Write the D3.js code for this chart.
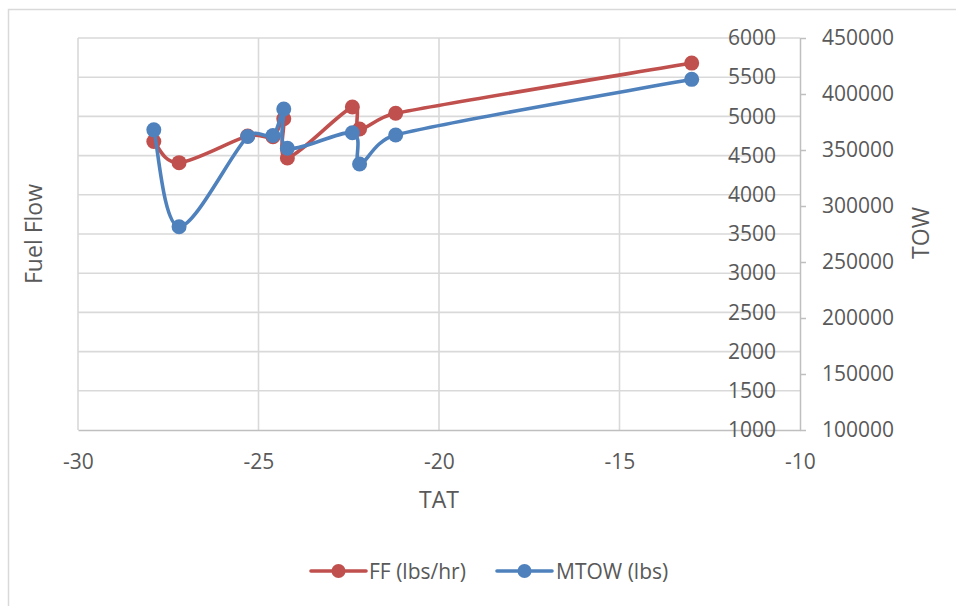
<!DOCTYPE html>
<html>
<head>
<meta charset="utf-8">
<script src="https://cdn.jsdelivr.net/npm/d3@7"></script>
<style>
  html, body { margin: 0; padding: 0; background: #ffffff; }
  svg { display: block; }
  text { font-family: "Open Sans", sans-serif; fill: #595959; }
</style>
</head>
<body>
<svg id="chart" width="956" height="606"></svg>
<script>
// Total air temperature readings (°C), shared by both series
const tat = [-27.9, -27.2, -25.3, -24.6, -24.3, -24.2, -22.4, -22.2, -21.2, -13.0];
// Fuel flow (lbs/hr) — primary axis
const ffValues = [4680, 4410, 4750, 4740, 4970, 4470, 5120, 4840, 5040, 5680];
// Maximum take-off weight (lbs) — secondary axis
const mtowValues = [368000, 281500, 362000, 363000, 386600, 351500, 365400, 337500, 363400, 413100];

const xTicks = [-30, -25, -20, -15, -10];
const ffTicks = d3.range(1000, 6001, 500);
const towTicks = d3.range(100000, 450001, 50000);

const seriesNames = ["FF (lbs/hr)", "MTOW (lbs)"];
const colors = ["#C0504D", "#4F81BD"];

const plainNumber = d => String(d);
const tickFont = "21px";
const titleFont = "23px";

const svg = d3.select("#chart");

// chart area border
svg.append("rect")
  .attr("x", 8.5).attr("y", 9.5)
  .attr("width", 1000).attr("height", 1000)
  .attr("fill", "none").attr("stroke", "#D9D9D9").attr("stroke-width", 1.5);

const plot = { left: 78, right: 800, top: 38, bottom: 430 };

const x = d3.scaleLinear().domain([-30, -10]).range([plot.left, plot.right]);
const yFF = d3.scaleLinear().domain([1000, 6000]).range([plot.bottom, plot.top]);
const yTOW = d3.scaleLinear().domain([100000, 450000]).range([plot.bottom, plot.top]);

// gridlines
const grid = svg.append("g");
grid.selectAll("line.h").data(ffTicks.slice(1)).join("line")
  .attr("x1", plot.left).attr("x2", plot.right)
  .attr("y1", d => yFF(d)).attr("y2", d => yFF(d))
  .attr("stroke", "#D9D9D9").attr("stroke-width", 1.6);
grid.selectAll("line.v").data(xTicks.slice(0, -1)).join("line")
  .attr("x1", d => x(d)).attr("x2", d => x(d))
  .attr("y1", plot.top).attr("y2", plot.bottom)
  .attr("stroke", "#D9D9D9").attr("stroke-width", 1.6);

// horizontal (TAT) axis
const xAxis = svg.append("g")
  .attr("transform", `translate(0,${plot.bottom})`)
  .call(d3.axisBottom(x).tickValues(xTicks).tickSize(0).tickPadding(24).tickFormat(plainNumber));
xAxis.select(".domain").attr("stroke", "#BFBFBF").attr("stroke-width", 1.5);
xAxis.selectAll("text").style("font-size", tickFont).style("font-family", "Open Sans, sans-serif").attr("fill", "#595959");

// primary vertical axis (fuel flow) — sits at the right edge, labels inside
const ffAxis = svg.append("g")
  .attr("transform", `translate(${plot.right},0)`)
  .call(d3.axisLeft(yFF).tickValues(ffTicks).tickSize(0).tickPadding(24).tickFormat(plainNumber));
ffAxis.select(".domain").remove();
ffAxis.selectAll("text").style("font-size", tickFont).style("font-family", "Open Sans, sans-serif").attr("fill", "#595959");

// secondary vertical axis (take-off weight)
const towAxis = svg.append("g")
  .attr("transform", `translate(${plot.right},0)`)
  .call(d3.axisRight(yTOW).tickValues(towTicks).tickSize(6).tickSizeOuter(0).tickPadding(16).tickFormat(plainNumber));
towAxis.select(".domain").attr("stroke", "#BFBFBF").attr("stroke-width", 1.5);
towAxis.selectAll(".tick line").attr("stroke", "#BFBFBF").attr("stroke-width", 1.5);
towAxis.selectAll("text").style("font-size", tickFont).style("font-family", "Open Sans, sans-serif").attr("fill", "#595959");

// axis titles
svg.append("text")
  .attr("x", (plot.left + plot.right) / 2).attr("y", 499)
  .attr("text-anchor", "middle").attr("dominant-baseline", "central")
  .style("font-size", titleFont).text("TAT");
svg.append("text")
  .attr("transform", "translate(33,234) rotate(-90)")
  .attr("text-anchor", "middle").attr("dominant-baseline", "central")
  .style("font-size", titleFont).text("Fuel Flow");
svg.append("text")
  .attr("transform", "translate(920,233) rotate(-90)")
  .attr("text-anchor", "middle").attr("dominant-baseline", "central")
  .style("font-size", titleFont).text("TOW");

// Smoothed line: Catmull-Rom style Béziers (tangent = neighbour difference / 6),
// with each control arm capped at half the length of its own segment.
function smoothPath(pts) {
  const p = d3.path();
  const n = pts.length;
  const dist = (a, b) => Math.hypot(b[0] - a[0], b[1] - a[1]);
  const arm = (from, a, b, segLen, sign) => {
    let dx = (b[0] - a[0]) / 6, dy = (b[1] - a[1]) / 6;
    const len = Math.hypot(dx, dy);
    if (len > segLen / 2 && len > 0) {
      const k = (segLen / 2) / len;
      dx *= k; dy *= k;
    }
    return [from[0] + sign * dx, from[1] + sign * dy];
  };
  p.moveTo(pts[0][0], pts[0][1]);
  for (let i = 0; i < n - 1; i++) {
    const p0 = pts[Math.max(i - 1, 0)], p1 = pts[i], p2 = pts[i + 1], p3 = pts[Math.min(i + 2, n - 1)];
    const seg = dist(p1, p2);
    const c1 = arm(p1, p0, p2, seg, 1);
    const c2 = arm(p2, p1, p3, seg, -1);
    p.bezierCurveTo(c1[0], c1[1], c2[0], c2[1], p2[0], p2[1]);
  }
  return p.toString();
}

// series
const series = [
  { name: seriesNames[0], color: colors[0], values: ffValues, y: yFF },
  { name: seriesNames[1], color: colors[1], values: mtowValues, y: yTOW }
];

series.forEach(s => {
  const pts = tat.map((t, i) => [x(t), s.y(s.values[i])]);
  const g = svg.append("g");
  g.append("path")
    .attr("d", smoothPath(pts))
    .attr("fill", "none").attr("stroke", s.color)
    .attr("stroke-width", 3.6).attr("stroke-linejoin", "round").attr("stroke-linecap", "round");
  g.selectAll("circle").data(pts).join("circle")
    .attr("cx", d => d[0]).attr("cy", d => d[1]).attr("r", 7.5)
    .attr("fill", s.color);
});

// legend
const legend = svg.append("g");
const legendItems = [
  { x: 311, textX: 369 },
  { x: 497, textX: 556 }
];
series.forEach((s, i) => {
  const it = legendItems[i];
  const gy = 571;
  legend.append("line")
    .attr("x1", it.x).attr("x2", it.x + 55).attr("y1", gy).attr("y2", gy)
    .attr("stroke", s.color).attr("stroke-width", 3.6).attr("stroke-linecap", "round");
  legend.append("circle")
    .attr("cx", it.x + 27.5).attr("cy", gy).attr("r", 7)
    .attr("fill", s.color);
  legend.append("text")
    .attr("x", it.textX).attr("y", gy)
    .attr("dominant-baseline", "central")
    .style("font-size", tickFont).text(s.name);
});
</script>
</body>
</html>
